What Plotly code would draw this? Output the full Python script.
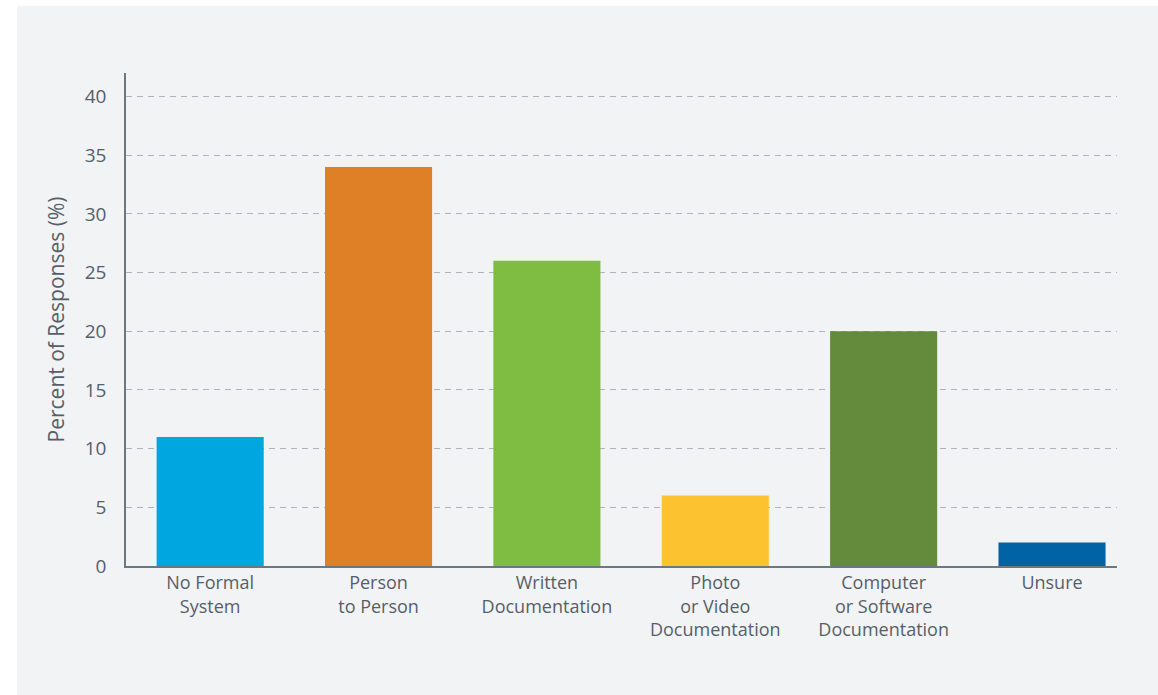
import plotly.graph_objects as go

categories = ["No Formal<br>System", "Person<br>to Person", "Written<br>Documentation",
              "Photo<br>or Video<br>Documentation", "Computer<br>or Software<br>Documentation", "Unsure"]
values = [11, 34, 26, 6, 20, 2]
colors = ["#00a6e0", "#df7f26", "#7fbd42", "#fdc22f", "#648b3c", "#0063a6"]
y_ticks = [0, 5, 10, 15, 20, 25, 30, 35, 40]

W, H = 1158, 695
L, R, T, B = 126, 41, 73, 129
BG = "#f2f3f5"
TXT = "#555f69"
FONT = "Open Sans"

fig = go.Figure(go.Bar(x=categories, y=values, marker=dict(color=colors, line=dict(width=0)),
                       width=0.636))

pw = W - L - R
ph = H - T - B
fig.update_layout(
    width=W, height=H,
    margin=dict(l=L, r=R, t=T, b=B, autoexpand=False),
    paper_bgcolor="white",
    plot_bgcolor="rgba(0,0,0,0)",
    font=dict(family=FONT, color=TXT, size=18),
    showlegend=False,
    shapes=[dict(type="rect", xref="paper", yref="paper", layer="below",
                 x0=(17 - L) / pw, x1=(W - L) / pw,
                 y0=-B / ph - 0.01, y1=(ph + T - 6) / ph,
                 fillcolor=BG, line=dict(width=0))],
)

fig.update_xaxes(
    type="category", range=[-0.5, 5.386], showgrid=False,
    showline=True, linecolor="#6d7780", linewidth=1.5,
    ticks="", tickfont=dict(size=18, color=TXT, family=FONT),
)
fig.update_yaxes(
    range=[0, 42], tickvals=y_ticks, showgrid=True, gridcolor="#b0b3b7", gridwidth=1.2,
    griddash="6px,5px", zeroline=False,
    showline=True, linecolor="#6d7780", linewidth=1.5,
    ticks="", ticklabelstandoff=14, tickfont=dict(size=19, color=TXT, family=FONT),
    title=dict(text="Percent of Responses (%)", font=dict(size=21, color=TXT, family=FONT), standoff=14),
)

fig.write_html("out.html")
